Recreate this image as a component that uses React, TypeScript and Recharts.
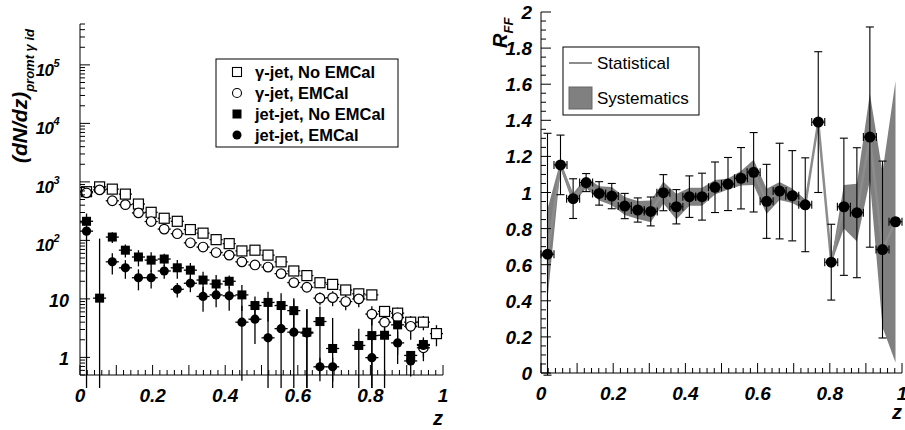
import React from 'react';
import { ComposedChart, Scatter, Line, Area, XAxis, YAxis, ErrorBar } from 'recharts';

// bin centres (28 bins in z) and half bin width
const Z_CENTERS = [
  0.018, 0.054, 0.089, 0.125, 0.161, 0.196, 0.232, 0.268, 0.304, 0.339, 0.375, 0.411, 0.446, 0.482,
  0.518, 0.554, 0.589, 0.625, 0.661, 0.696, 0.732, 0.768, 0.804, 0.839, 0.875, 0.911, 0.946, 0.982,
];
const HALF_BIN = 0.018;

// left panel: (dN/dz) prompt gamma id
const GJ_NO_EMCAL = [680, 822, 752, 618, 418, 302, 239, 212, 153, 133, 103, 88, 66, 68, 56, 43, 30, 25, 18.9, 17.7, 14.2, 12.2, 11.7, 6.1, 5.7, 4.0, 4.0, 2.55];
const GJ_NO_EMCAL_ERR = [60, 70, 60, 50, 30, 22, 17, 15, 11, 10, 8, 7, 6, 6, 5, 4, 3, 3, 2.5, 2.4, 2.1, 1.9, 1.9, 1.4, 1.4, 1.1, 1.1, 1.0];
const GJ_EMCAL = [650, 730, 476, 408, 295, 210, 156, 130, 91, 77, 62, 56, 43, 38, 35, 27, 19, 15.8, 10.3, 10.5, 9.0, 10, 5.5, 4.0, 4.8, 3.4, 1.46, null];
const GJ_EMCAL_ERR = [55, 60, 35, 30, 20, 15, 11, 9, 7, 6, 5, 4.5, 4, 3.5, 3.3, 3, 2.3, 2, 2.5, 3, 2.6, 2.8, 2, 1.6, 1.8, 1.4, 0.6, 0];
const JJ_NO_EMCAL = [212, 10.3, 114, 68, 52, 46, 48, 34, 31, 21, 18, 20, 11.7, 7.7, 8.7, 7.7, 6.3, 2.7, 4.1, 1.42, null, 1.6, 2.36, 2.39, 3.6, 1.08, 1.66, null];
const JJ_NO_EMCAL_ERR = [15, 97, 24, 17, 16, 17, 11, 12, 10, 8, 7.5, 5, 5.5, 3.3, 4.6, 4.8, 4, 4, 3.3, 3.3, 0, 1.5, 2.6, 5, 2.5, 0.2, 0.3, 0];
const JJ_EMCAL = [144, null, 43, 34, 23, 23, 30, 14.6, 18.5, 11, 11.7, 11.3, 4.0, 4.5, 2.16, 3.1, 2.7, 2.6, 0.69, 0.69, null, null, 0.99, null, 1.77, 0.87, 1.6, null];
const JJ_EMCAL_ERR = [144, 0, 17, 12, 9, 8, 8, 4, 5.5, 5, 4.5, 5, 3.6, 2.8, 6, 3.4, 7, 4, 0.3, 0.3, 0, 0, 1.5, 0, 1, 0.4, 0.6, 0];

// right panel: R_FF
const R_FF = [0.658, 1.153, 0.966, 1.055, 0.995, 0.98, 0.925, 0.903, 0.895, 0.999, 0.921, 0.977, 0.977, 1.029, 1.047, 1.079, 1.112, 0.951, 1.008, 0.982, 0.932, 1.39, 0.614, 0.921, 0.888, 1.307, 0.684, 0.838];
const R_STAT_ERR = [0.67, 0.165, 0.11, 0.05, 0.065, 0.07, 0.07, 0.067, 0.08, 0.1, 0.095, 0.115, 0.13, 0.14, 0.147, 0.17, 0.22, 0.205, 0.265, 0.25, 0.26, 0.39, 0.21, 0.38, 0.36, 0.61, 0.49, 0];
const R_SYS_ERR = [0.25, 0.02, 0.03, 0.03, 0.04, 0.05, 0.05, 0.05, 0.06, 0.06, 0.07, 0.05, 0.05, 0.04, 0.03, 0.04, 0.07, 0.07, 0.05, 0.04, 0.03, 0.01, 0.01, 0.12, 0.16, 0.24, 0.43, 0.78];

// ticks & labels
const X_LABELS = ['0', '0.2', '0.4', '0.6', '0.8', '1'];
const R_LABELS = ['0', '0.2', '0.4', '0.6', '0.8', '1', '1.2', '1.4', '1.6', '1.8', '2'];
const LOG_DECADES = [1, 10, 100, 1000, 10000, 100000];
const LOG_MIN = 0.5;
const LOG_MAX = 5e5;

const X_TICKS = Array.from({ length: 51 }, (_, i) => i / 50);
const R_TICKS = Array.from({ length: 41 }, (_, i) => i / 20);
const LOG_TICKS: number[] = [];
[0.1, 1, 10, 100, 1000, 10000, 100000].forEach((d) => {
  for (let k = 1; k <= 9; k++) {
    const v = d * k;
    if (v >= LOG_MIN && v <= LOG_MAX) LOG_TICKS.push(v);
  }
});

const FONT = '"Liberation Sans", Arial, Helvetica, sans-serif';
const AXF = { fontFamily: FONT, fontWeight: 700, fontStyle: 'italic' as const };
const BAND = '#808080';
const STAT_LINE = '#8c8c8c';

const toPoints = (vals: (number | null)[], errs: number[]) =>
  vals
    .map((v, i) =>
      v == null
        ? null
        : { z: Z_CENTERS[i], y: v, ex: HALF_BIN, ey: [v - Math.max(v - errs[i], 0.3), errs[i]] }
    )
    .filter(Boolean) as any[];

const rData = Z_CENTERS.map((z, i) => ({
  z,
  r: R_FF[i],
  band: [R_FF[i] - R_SYS_ERR[i], R_FF[i] + R_SYS_ERR[i]],
  ex: HALF_BIN,
  ey: R_STAT_ERR[i],
}));

const xTick = (showLabel: boolean, dir: number) => (p: any) => {
  const v: number = p.payload.value;
  const n = Math.round(v * 50);
  const len = n % 5 === 0 ? 10 : 5;
  return (
    <g>
      <line x1={p.x} x2={p.x} y1={p.y} y2={p.y + dir * len} stroke="#000" />
      {showLabel && n % 10 === 0 && (
        <text x={p.x} y={p.y + 27} textAnchor="middle" fontSize={19} {...AXF}>
          {X_LABELS[n / 10]}
        </text>
      )}
    </g>
  );
};

const rTick = (showLabel: boolean, dir: number) => (p: any) => {
  const v: number = p.payload.value;
  const n = Math.round(v * 20);
  const len = n % 4 === 0 ? 10 : 5;
  return (
    <g>
      <line x1={p.x} x2={p.x + dir * len} y1={p.y} y2={p.y} stroke="#000" />
      {showLabel && n % 4 === 0 && (
        <text x={p.x - 9} y={p.y + 7} textAnchor="end" fontSize={19} {...AXF}>
          {R_LABELS[n / 4]}
        </text>
      )}
    </g>
  );
};

const logTick = (showLabel: boolean, dir: number) => (p: any) => {
  const v: number = p.payload.value;
  const e = Math.log10(v);
  const decade = Math.abs(e - Math.round(e)) < 1e-6;
  const len = decade ? 10 : 5;
  const idx = LOG_DECADES.indexOf(Math.round(v));
  let label: React.ReactNode = null;
  if (showLabel && decade && idx >= 0) {
    if (idx <= 1) {
      label = (
        <text x={p.x - 11} y={p.y + 8} textAnchor="end" fontSize={18} {...AXF}>
          {idx === 0 ? '1' : '10'}
        </text>
      );
    } else {
      label = (
        <text x={p.x - 21} y={p.y + 11} textAnchor="end" fontSize={17} letterSpacing={-0.6} {...AXF}>
          10
          <tspan dy={-9} fontSize={11}>
            {idx}
          </tspan>
        </text>
      );
    }
  }
  return (
    <g>
      <line x1={p.x} x2={p.x + dir * len} y1={p.y} y2={p.y} stroke="#000" />
      {label}
    </g>
  );
};

const openSquare = (p: any) => (
  <rect x={p.cx - 5} y={p.cy - 5} width={10} height={10} fill="#fff" stroke="#000" strokeWidth={1.2} />
);
const openCircle = (p: any) => <circle cx={p.cx} cy={p.cy} r={4.8} fill="#fff" stroke="#000" strokeWidth={1.2} />;
const fullSquare = (p: any) => <rect x={p.cx - 4.5} y={p.cy - 4.5} width={9} height={9} fill="#000" />;
const fullCircle = (p: any) => <circle cx={p.cx} cy={p.cy} r={4.6} fill="#000" />;
const bigDot = (p: any) => <circle cx={p.cx} cy={p.cy} r={5.5} fill="#000" />;

const LEFT_SERIES = [
  { name: 'γ-jet, No EMCal', data: toPoints(GJ_NO_EMCAL, GJ_NO_EMCAL_ERR), shape: openSquare },
  { name: 'γ-jet, EMCal', data: toPoints(GJ_EMCAL, GJ_EMCAL_ERR), shape: openCircle },
  { name: 'jet-jet, No EMCal', data: toPoints(JJ_NO_EMCAL, JJ_NO_EMCAL_ERR), shape: fullSquare },
  { name: 'jet-jet, EMCal', data: toPoints(JJ_EMCAL, JJ_EMCAL_ERR), shape: fullCircle },
];

const LeftPanel = () => (
  <ComposedChart width={460} height={430} margin={{ top: 24, right: 17, left: 0, bottom: 0 }}>
    <XAxis
      xAxisId="b" dataKey="z" type="number" domain={[0, 1]} allowDataOverflow ticks={X_TICKS}
      interval={0} height={55} tickSize={0} tickMargin={0} tickLine={false}
      axisLine={{ stroke: '#000' }} tick={xTick(true, -1)}
    />
    <XAxis
      xAxisId="t" orientation="top" dataKey="z" type="number" domain={[0, 1]} allowDataOverflow
      ticks={X_TICKS} interval={0} height={0} tickSize={0} tickMargin={0} tickLine={false}
      axisLine={{ stroke: '#000' }} tick={xTick(false, 1)}
    />
    <YAxis
      yAxisId="l" type="number" scale="log" domain={[LOG_MIN, LOG_MAX]} allowDataOverflow
      ticks={LOG_TICKS} interval={0} width={80} tickSize={0} tickMargin={0} tickLine={false}
      axisLine={{ stroke: '#000' }} tick={logTick(true, 1)}
    />
    <YAxis
      yAxisId="r" orientation="right" type="number" scale="log" domain={[LOG_MIN, LOG_MAX]}
      allowDataOverflow ticks={LOG_TICKS} interval={0} width={0} tickSize={0} tickMargin={0}
      tickLine={false} axisLine={{ stroke: '#000' }} tick={logTick(false, -1)}
    />
    {LEFT_SERIES.map((s) => (
      <Scatter
        key={s.name} name={s.name} data={s.data} dataKey="y" xAxisId="b" yAxisId="l"
        shape={s.shape} isAnimationActive={false}
      >
        <ErrorBar dataKey="ey" direction="y" width={0} stroke="#000" strokeWidth={1.3} isAnimationActive={false} />
        <ErrorBar dataKey="ex" direction="x" width={0} stroke="#000" strokeWidth={1.3} isAnimationActive={false} />
      </Scatter>
    ))}
  </ComposedChart>
);

const RightPanel = () => (
  <ComposedChart width={445} height={430} data={rData} margin={{ top: 12, right: 3, left: 0, bottom: 0 }}>
    <XAxis
      xAxisId="b" dataKey="z" type="number" domain={[0, 1]} allowDataOverflow ticks={X_TICKS}
      interval={0} height={57} tickSize={0} tickMargin={0} tickLine={false}
      axisLine={{ stroke: '#000' }} tick={xTick(true, -1)}
    />
    <XAxis
      xAxisId="t" orientation="top" dataKey="z" type="number" domain={[0, 1]} allowDataOverflow
      ticks={X_TICKS} interval={0} height={0} tickSize={0} tickMargin={0} tickLine={false}
      axisLine={{ stroke: '#000' }} tick={xTick(false, 1)}
    />
    <YAxis
      yAxisId="l" type="number" domain={[0, 2]} allowDataOverflow ticks={R_TICKS} interval={0}
      width={81} tickSize={0} tickMargin={0} tickLine={false} axisLine={{ stroke: '#000' }}
      tick={rTick(true, 1)}
    />
    <YAxis
      yAxisId="r" orientation="right" type="number" domain={[0, 2]} allowDataOverflow ticks={R_TICKS}
      interval={0} width={0} tickSize={0} tickMargin={0} tickLine={false} axisLine={{ stroke: '#000' }}
      tick={rTick(false, -1)}
    />
    <Area
      xAxisId="b" yAxisId="l" type="linear" dataKey="band" fill={BAND} fillOpacity={1} stroke="none"
      isAnimationActive={false}
    />
    <Line
      xAxisId="b" yAxisId="l" type="linear" dataKey="r" stroke={STAT_LINE} strokeWidth={2.5} dot={false}
      isAnimationActive={false}
    />
    <Scatter xAxisId="b" yAxisId="l" dataKey="r" shape={bigDot} isAnimationActive={false}>
      <ErrorBar dataKey="ey" direction="y" width={4} stroke="#000" strokeWidth={1.1} isAnimationActive={false} />
      <ErrorBar dataKey="ex" direction="x" width={4} stroke="#000" strokeWidth={1.1} isAnimationActive={false} />
    </Scatter>
  </ComposedChart>
);

const Overlay = () => (
  <svg width={905} height={430} style={{ position: 'absolute', left: 0, top: 0, pointerEvents: 'none' }}>
    {/* axis titles */}
    <text x={443} y={425} textAnchor="end" fontSize={20} {...AXF}>z</text>
    <text x={902} y={419} textAnchor="end" fontSize={20} {...AXF}>z</text>
    <text transform="translate(27,163) rotate(-90)" fontSize={21} {...AXF}>
      (dN/dz)
      <tspan dy={7} fontSize={13}>promt γ id</tspan>
    </text>
    <text transform="translate(507,48) rotate(-90)" fontSize={20} {...AXF}>
      R
      <tspan dy={6} fontSize={13}>FF</tspan>
    </text>

    {/* left legend */}
    <rect x={216} y={59} width={182} height={88} fill="#fff" stroke="#000" strokeWidth={1} />
    <rect x={232.5} y={67.5} width={9} height={9} fill="#fff" stroke="#000" strokeWidth={1.1} />
    <circle cx={237} cy={93} r={4.5} fill="#fff" stroke="#000" strokeWidth={1.1} />
    <rect x={232.5} y={109.5} width={9} height={9} fill="#000" />
    <circle cx={237} cy={135} r={4.5} fill="#000" />
    {LEFT_SERIES.map((s, i) => (
      <text
        key={s.name} x={255} y={78 + i * 21} fontSize={16.5} fontFamily={FONT} fontWeight={700}
      >
        {s.name}
      </text>
    ))}

    {/* right legend */}
    <rect x={563} y={47} width={136} height={68} fill="#fff" stroke="#000" strokeWidth={1} />
    <line x1={569} x2={592} y1={63} y2={63} stroke={STAT_LINE} strokeWidth={2} />
    <text x={597} y={69} fontSize={17} fontFamily={FONT}>Statistical</text>
    <rect x={569} y={87} width={23} height={22} fill={BAND} stroke="#666" strokeWidth={1} />
    <text x={597} y={104} fontSize={17} fontFamily={FONT}>Systematics</text>
  </svg>
);

export default function App() {
  return (
    <div style={{ position: 'fixed', left: 0, top: 0, width: 905, height: 430, background: '#fff' }}>
      <div style={{ position: 'absolute', left: 0, top: 0 }}>
        <LeftPanel />
      </div>
      <div style={{ position: 'absolute', left: 460, top: 0 }}>
        <RightPanel />
      </div>
      <Overlay />
    </div>
  );
}
